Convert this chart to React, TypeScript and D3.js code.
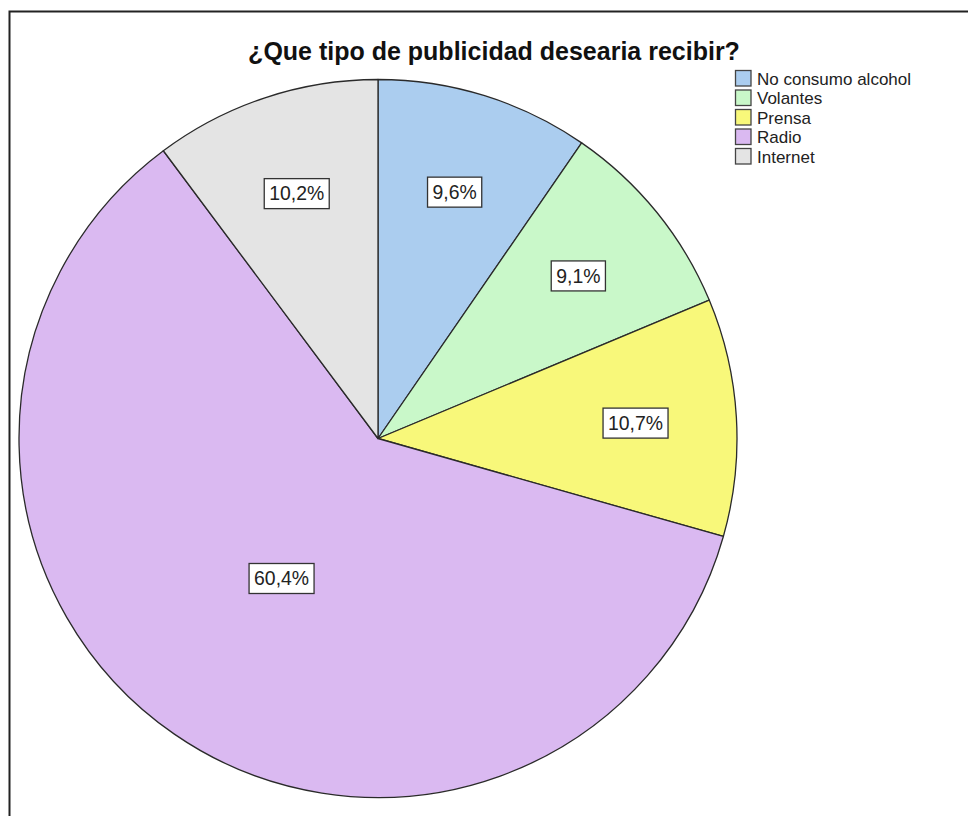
import React, { useEffect, useRef } from "react";
import * as d3 from "d3";

const categories = ["No consumo alcohol", "Volantes", "Prensa", "Radio", "Internet"];
const percents = [9.6, 9.1, 10.7, 60.4, 10.2];
const colors = ["#abcdef", "#c9f8c9", "#f8f87a", "#dab9f1", "#e4e4e4"];
const title = "¿Que tipo de publicidad desearia recibir?";

const W = 968;
const H = 816;
const FONT = "'Liberation Sans', Arial, sans-serif";

export default function App() {
  const ref = useRef<SVGSVGElement>(null);

  useEffect(() => {
    const svg = d3.select(ref.current);
    svg.selectAll("*").remove();

    // frame
    svg.append("rect")
      .attr("x", 9.5).attr("y", 11.5)
      .attr("width", W + 20).attr("height", H + 20)
      .attr("fill", "white").attr("stroke", "#222").attr("stroke-width", 2);

    // title
    svg.append("text")
      .attr("x", 494).attr("y", 60)
      .attr("text-anchor", "middle")
      .attr("font-family", FONT)
      .attr("font-weight", "bold")
      .attr("font-size", 25)
      .attr("fill", "#111")
      .text(title);

    const cx = 378, cy = 438.5, R = 359;
    const data = categories.map((c, i) => ({ c, v: percents[i], col: colors[i] }));
    const pie = d3.pie<any>().value((d: any) => d.v).sort(null);
    const arcs = pie(data);
    const arc = d3.arc<any>().innerRadius(0).outerRadius(R);

    const g = svg.append("g").attr("transform", `translate(${cx},${cy})`);
    g.selectAll("path.slice").data(arcs).enter().append("path")
      .attr("class", "slice")
      .attr("d", arc as any)
      .attr("fill", (d: any) => d.data.col)
      .attr("stroke", "#2a2a2a")
      .attr("stroke-width", 1.3)
      .attr("stroke-linejoin", "round");

    const fmt = (v: number) => v.toFixed(1).replace(".", ",") + "%";

    arcs.forEach((a: any) => {
      const mid = (a.startAngle + a.endAngle) / 2;
      const frac = a.data.v / 100;
      const lr = frac > 0.5 ? 170 : 258;
      const x = Math.sin(mid) * lr;
      const y = -Math.cos(mid) * lr;
      const lg = g.append("g").attr("transform", `translate(${x},${y})`);
      const rect = lg.append("rect").attr("fill", "white").attr("stroke", "#333").attr("stroke-width", 1.3);
      const t = lg.append("text")
        .attr("text-anchor", "middle")
        .attr("dy", "0.35em")
        .attr("font-family", FONT)
        .attr("font-size", 19.4)
        .attr("fill", "#222")
        .text(fmt(a.data.v));
      const bb = (t.node() as SVGTextElement).getBBox();
      const bw = bb.width + 10, bh = 30;
      rect.attr("x", -bw / 2).attr("y", -bh / 2).attr("width", bw).attr("height", bh);
    });

    // legend
    const lx = 735.5, ly0 = 70.5, step = 19.5, sq = 15.5;
    const lgnd = svg.append("g");
    data.forEach((d, i) => {
      const y = ly0 + i * step;
      lgnd.append("rect")
        .attr("x", lx).attr("y", y).attr("width", sq).attr("height", sq)
        .attr("fill", d.col).attr("stroke", "#444").attr("stroke-width", 1.3);
      lgnd.append("text")
        .attr("x", 757).attr("y", y + sq - 1.5)
        .attr("font-family", FONT)
        .attr("font-size", 17)
        .attr("fill", "#222")
        .text(d.c);
    });
  }, []);

  return (
    <svg ref={ref} width={W} height={H} style={{ position: "absolute", left: 0, top: 0, background: "white" }} />
  );
}
